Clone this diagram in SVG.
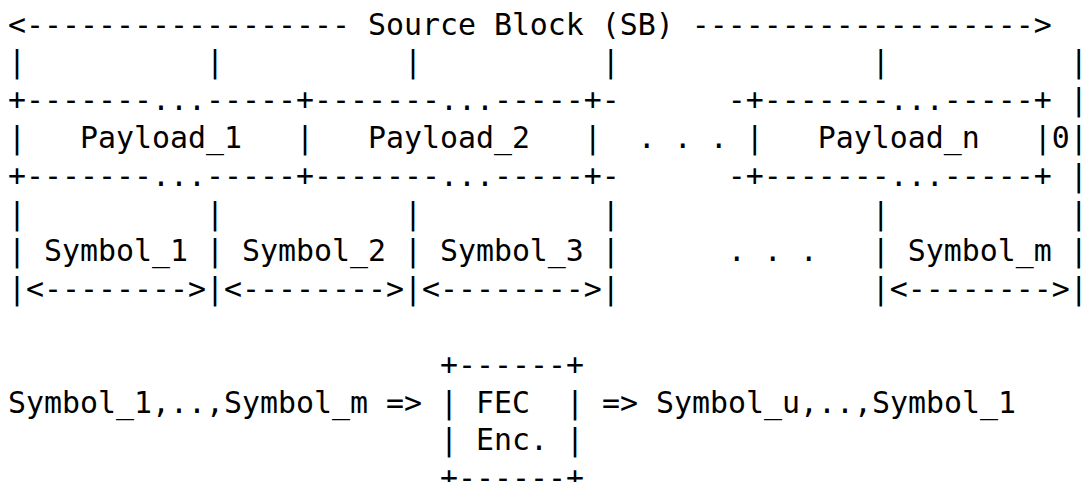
<svg xmlns="http://www.w3.org/2000/svg" width="1088" height="482" viewBox="0 0 1088 482">
<style>
text{font-family:"DejaVu Sans Mono","Liberation Mono",monospace;font-size:29.9px;fill:#000;white-space:pre}
</style>
<rect width="1088" height="482" fill="#fff"/>
<g id="source-block" xml:space="preserve">
<text x="8" y="34.5">&lt;------------------ Source Block (SB) -------------------&gt;</text>
</g>
<g id="payloads" xml:space="preserve">
<text x="8" y="72.3">|          |          |          |              |          |</text>
<text x="8" y="110.1">+-------...-----+-------...-----+-      -+-------...-----+ |</text>
<text x="8" y="147.9">|   Payload_1   |   Payload_2   |  . . . |   Payload_n   |0|</text>
<text x="8" y="185.7">+-------...-----+-------...-----+-      -+-------...-----+ |</text>
</g>
<g id="symbols" xml:space="preserve">
<text x="8" y="223.5">|          |          |          |              |          |</text>
<text x="8" y="261.3">| Symbol_1 | Symbol_2 | Symbol_3 |      . . .   | Symbol_m |</text>
<text x="8" y="299.1">|&lt;--------&gt;|&lt;--------&gt;|&lt;--------&gt;|              |&lt;--------&gt;|</text>
</g>
<g id="fec-encoder" xml:space="preserve">
<text x="440" y="374.7">+------+</text>
<text x="440" y="412.5">| FEC  |</text>
<text x="440" y="450.3">| Enc. |</text>
<text x="440" y="488.1">+------+</text>
</g>
<g id="connectors" xml:space="preserve">
<text x="8" y="412.5">Symbol_1,..,Symbol_m =&gt;</text>
<text x="584" y="412.5"> =&gt; Symbol_u,..,Symbol_1</text>
</g>
</svg>
